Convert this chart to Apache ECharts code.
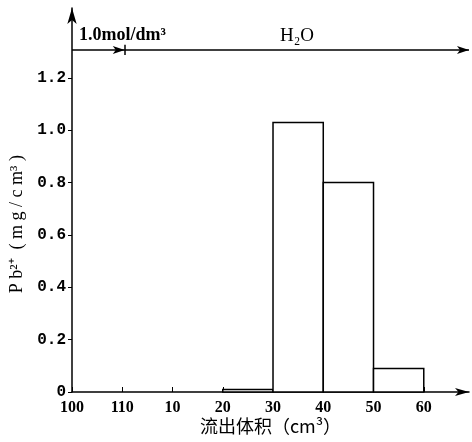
<!DOCTYPE html>
<html>
<head>
<meta charset="utf-8">
<script src="https://cdn.jsdelivr.net/npm/echarts@6/dist/echarts.min.js"></script>
<style>
  html, body { margin: 0; padding: 0; background: #fff; }
  #main { width: 472px; height: 442px; }
</style>
</head>
<body>
<div id="main"></div>
<script>
// tick labels along the volume axis (two eluent stages, then 10..60)
const xLabels = ['100', '110', '10', '20', '30', '40', '50', '60'];
const yTicks = [0, 0.2, 0.4, 0.6, 0.8, 1.0, 1.2];
// histogram bins: left edge, right edge, Pb2+ concentration
const binLeft = ['20', '30', '40', '50'];
const binRight = ['30', '40', '50', '60'];
const pbValues = [0.01, 1.03, 0.80, 0.09];
// eluent line level and switch point
const eluentLevel = 1.307;
const eluentSwitch = 1.05;

const bins = pbValues.map((v, i) => [xLabels.indexOf(binLeft[i]), xLabels.indexOf(binRight[i]), v]);
const xTickValues = xLabels.map((_, i) => i);

const chart = echarts.init(document.getElementById('main'));
const serif = 'Liberation Serif';

chart.setOption({
  animation: false,
  grid: { left: 72, right: 3, top: 8, bottom: 50, containLabel: false, outerBoundsMode: 'none' },
  xAxis: {
    type: 'value',
    min: 0,
    max: 7.9,
    interval: 1,
    splitLine: { show: false },
    axisLine: { lineStyle: { color: '#000', width: 1.5 }, symbol: ['none', 'arrow'], symbolSize: [6, 14] },
    axisTick: { inside: true, length: 5, lineStyle: { color: '#000' }, customValues: xTickValues },
    axisLabel: {
      customValues: xTickValues,
      formatter: v => xLabels[v],
      color: '#000', fontFamily: serif, fontWeight: 'bold', fontSize: 16, margin: 8
    },
    name: '流出体积（cm³）',
    nameLocation: 'middle',
    nameGap: 25,
    nameMoveOverlap: false,
    nameTextStyle: { color: '#000', fontFamily: 'Noto Sans CJK SC', fontSize: 18 }
  },
  yAxis: {
    type: 'value',
    min: 0,
    max: 1.467,
    interval: 0.2,
    splitLine: { show: false },
    axisLine: { lineStyle: { color: '#000', width: 1.5 }, symbol: ['none', 'arrow'], symbolSize: [7, 16] },
    axisTick: { length: 4, lineStyle: { color: '#000' }, customValues: yTicks },
    axisLabel: {
      customValues: yTicks,
      formatter: v => (v === 0 ? '0' : v.toFixed(1)),
      color: '#000', fontFamily: 'Liberation Mono', fontWeight: 'bold', fontSize: 16, margin: 6
    }
  },
  graphic: [
    {
      type: 'text', left: 8, top: 155, rotation: Math.PI / 2,
      style: { text: 'P b²⁺  ( m g / c m³ )', fill: '#000', fontFamily: serif, fontSize: 18 }
    },
    {
      type: 'text', left: 79, top: 26,
      style: { text: '1.0mol/dm³', fill: '#000', fontFamily: serif, fontWeight: 'bold', fontSize: 18 }
    },
    {
      type: 'text', left: 280, top: 27,
      style: { text: 'H₂O', fill: '#000', fontFamily: serif, fontSize: 19 }
    }
  ],
  series: [{
    type: 'custom',
    data: bins,
    renderItem: (params, api) => {
      const p0 = api.coord([api.value(0), api.value(2)]);
      const p1 = api.coord([api.value(1), 0]);
      return {
        type: 'rect',
        shape: { x: p0[0], y: p0[1], width: p1[0] - p0[0], height: p1[1] - p0[1] },
        style: { fill: '#fff', stroke: '#000', lineWidth: 1.5 }
      };
    },
    markLine: {
      silent: true,
      label: { show: false },
      lineStyle: { color: '#000', width: 1.5, type: 'solid' },
      symbolSize: [6, 12],
      data: [
        [{ coord: [0, eluentLevel], symbol: 'none' }, { coord: [eluentSwitch, eluentLevel], symbol: 'arrow' }],
        [{ coord: [eluentSwitch, eluentLevel], symbol: 'none' }, { coord: [7.9, eluentLevel], symbol: 'arrow' }],
        [{ coord: [eluentSwitch, eluentLevel - 0.02], symbol: 'none' }, { coord: [eluentSwitch, eluentLevel + 0.02], symbol: 'none' }]
      ]
    }
  }]
});
</script>
</body>
</html>
